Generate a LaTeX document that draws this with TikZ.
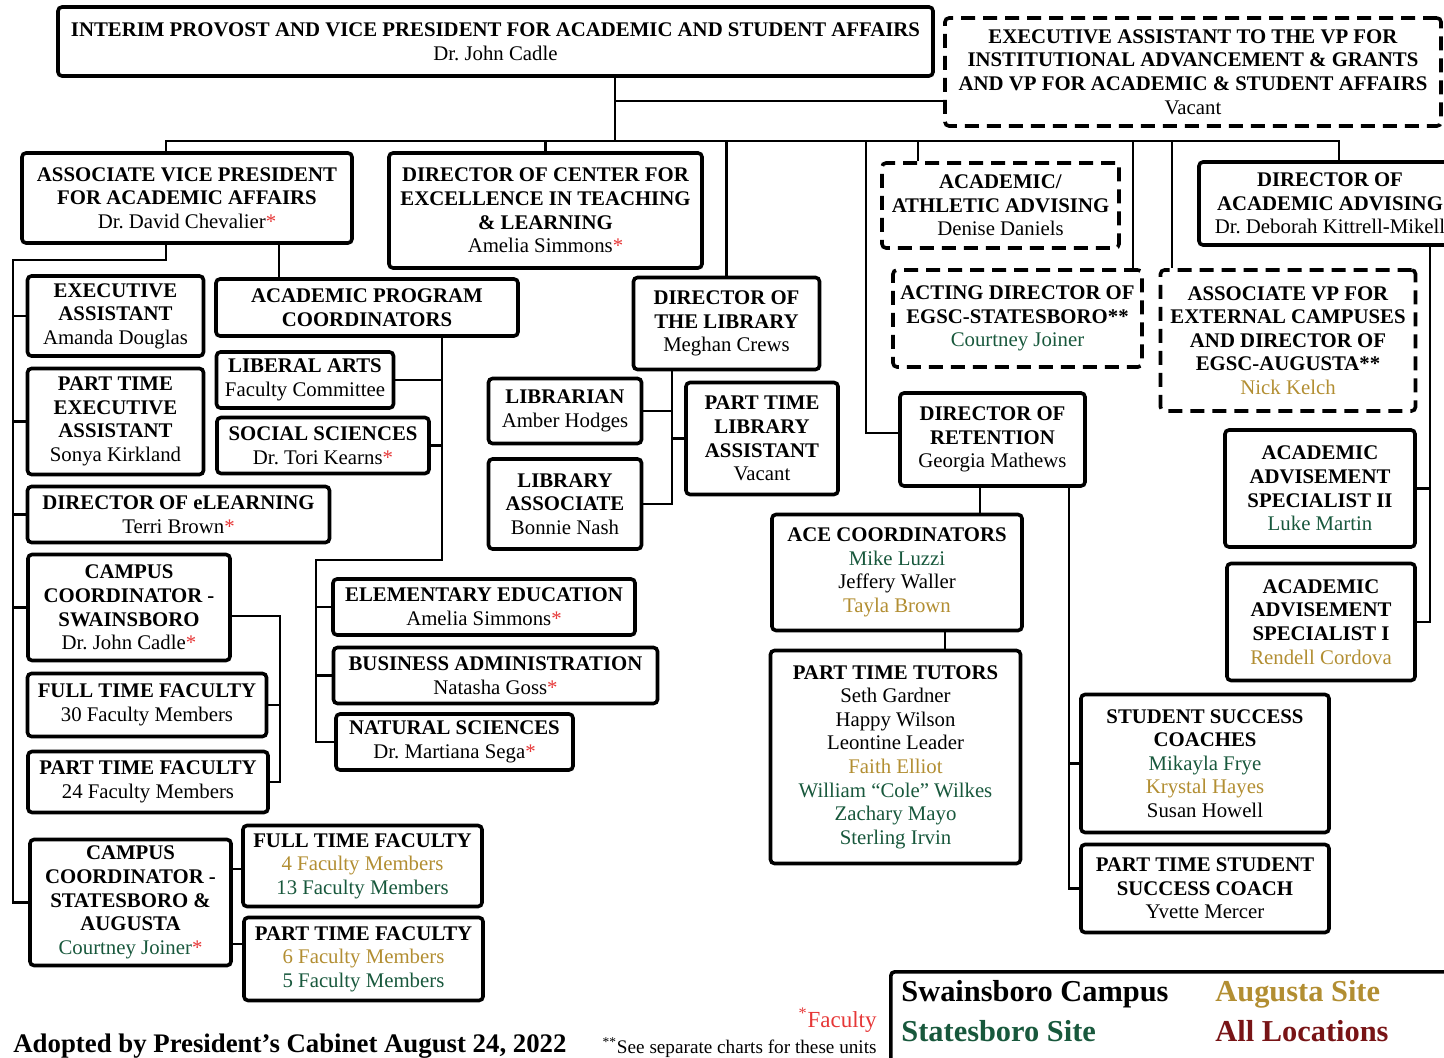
\documentclass[tikz,border=0pt]{standalone}
\usepackage{fontspec}
\setmainfont{Liberation Serif}
\usepackage{tikz}
\usetikzlibrary{positioning,calc}
\definecolor{stategreen}{RGB}{24,88,60}
\definecolor{augold}{RGB}{178,142,50}
\definecolor{allmaroon}{RGB}{120,20,22}
\definecolor{facred}{RGB}{230,55,55}
\newcommand{\grn}[1]{\textcolor{stategreen}{#1}}
\newcommand{\gld}[1]{\textcolor{augold}{#1}}
\newcommand{\fac}{\textcolor{facred}{*}}
\frenchspacing

\begin{document}
\begin{tikzpicture}[x=0.5pt,y=-0.5pt]
	\tikzset{
		mynode/.style={rectangle, rounded corners=2pt, draw=black, line width=1.8pt, align=center, inner sep=1pt, font=\fontsize{10.4}{11.8}\selectfont},
		mydash/.style={mynode, dash pattern=on 7pt off 4pt},
		boxsize/.style 2 args={minimum width=#1*0.5pt, minimum height=#2*0.5pt},
		myline/.style={line width=1.4pt},
		mylegend/.style={anchor=west, inner sep=0pt, font=\fontsize{15.2}{17}\selectfont\bfseries}
	}
	\useasboundingbox (0,0) rectangle (1444,1058);

	\node[mynode, boxsize={875}{69}] (provost) at (495.5,41.5) {\textbf{INTERIM PROVOST AND VICE PRESIDENT FOR ACADEMIC AND STUDENT AFFAIRS}\\Dr. John Cadle};
	\node[mydash, boxsize={496}{108}] (execvp) at (1193,72) {\textbf{EXECUTIVE ASSISTANT TO THE VP FOR}\\\textbf{INSTITUTIONAL ADVANCEMENT \& GRANTS}\\\textbf{AND VP FOR ACADEMIC \& STUDENT AFFAIRS}\\Vacant};
	\node[mynode, boxsize={330}{90}] (avp) at (187,198) {\textbf{ASSOCIATE VICE PRESIDENT}\\\textbf{FOR ACADEMIC AFFAIRS}\\Dr. David Chevalier\fac};
	\node[mynode, boxsize={313}{115}] (cetl) at (545.5,210.5) {\textbf{DIRECTOR OF CENTER FOR}\\\textbf{EXCELLENCE IN TEACHING}\\\textbf{\& LEARNING}\\Amelia Simmons\fac};
	\node[mydash, boxsize={237}{85}] (athletic) at (1000.5,205.5) {\textbf{ACADEMIC/}\\\textbf{ATHLETIC ADVISING}\\Denise Daniels};
	\node[mynode, boxsize={262}{83}] (advising) at (1330,203.5) {\textbf{DIRECTOR OF}\\\textbf{ACADEMIC ADVISING}\\Dr. Deborah Kittrell-Mikell};
	\node[mydash, boxsize={249}{97}] (acting) at (1017.5,318.5) {\textbf{ACTING DIRECTOR OF}\\\textbf{EGSC-STATESBORO**}\\\grn{Courtney Joiner}};
	\node[mydash, boxsize={255}{141}] (extvp) at (1288,340.5) {\textbf{ASSOCIATE VP FOR}\\\textbf{EXTERNAL CAMPUSES}\\\textbf{AND DIRECTOR OF}\\\textbf{EGSC-AUGUSTA**}\\\gld{Nick Kelch}};
	\node[mynode, boxsize={176}{80}] (execasst) at (115.5,316) {\textbf{EXECUTIVE}\\\textbf{ASSISTANT}\\Amanda Douglas};
	\node[mynode, boxsize={302}{57}] (apc) at (367,307.5) {\textbf{ACADEMIC PROGRAM}\\\textbf{COORDINATORS}};
	\node[mynode, boxsize={186}{92}] (libdir) at (726.5,323.5) {\textbf{DIRECTOR OF}\\\textbf{THE LIBRARY}\\Meghan Crews};
	\node[mynode, boxsize={176}{106}] (ptexec) at (115.5,421.5) {\textbf{PART TIME}\\\textbf{EXECUTIVE}\\\textbf{ASSISTANT}\\Sonya Kirkland};
	\node[mynode, boxsize={177}{56}] (libarts) at (305,380) {\textbf{LIBERAL ARTS}\\Faculty Committee};
	\node[mynode, boxsize={212}{56}] (socsci) at (323,445.5) {\textbf{SOCIAL SCIENCES}\\Dr. Tori Kearns\fac};
	\node[mynode, boxsize={153}{65}] (librarian) at (565,411) {\textbf{LIBRARIAN}\\Amber Hodges};
	\node[mynode, boxsize={153}{90}] (libassoc) at (565,504) {\textbf{LIBRARY}\\\textbf{ASSOCIATE}\\Bonnie Nash};
	\node[mynode, boxsize={152}{112}] (ptlib) at (762,438.5) {\textbf{PART TIME}\\\textbf{LIBRARY}\\\textbf{ASSISTANT}\\Vacant};
	\node[mynode, boxsize={185}{93}] (retention) at (992.5,439.5) {\textbf{DIRECTOR OF}\\\textbf{RETENTION}\\Georgia Mathews};
	\node[mynode, boxsize={190}{117}] (aasii) at (1320,488.5) {\textbf{ACADEMIC}\\\textbf{ADVISEMENT}\\\textbf{SPECIALIST II}\\\grn{Luke Martin}};
	\node[mynode, boxsize={302}{56}] (elearn) at (178.5,514.5) {\textbf{DIRECTOR OF eLEARNING}\\Terri Brown\fac};
	\node[mynode, boxsize={250}{116}] (ace) at (897,572.5) {\textbf{ACE COORDINATORS}\\\grn{Mike Luzzi}\\Jeffery Waller\\\gld{Tayla Brown}};
	\node[mynode, boxsize={202}{106}] (swain) at (129,607.5) {\textbf{CAMPUS}\\\textbf{COORDINATOR -}\\\textbf{SWAINSBORO}\\Dr. John Cadle\fac};
	\node[mynode, boxsize={302}{56}] (elem) at (484,607) {\textbf{ELEMENTARY EDUCATION}\\Amelia Simmons\fac};
	\node[mynode, boxsize={188}{117}] (aasi) at (1321,622) {\textbf{ACADEMIC}\\\textbf{ADVISEMENT}\\\textbf{SPECIALIST I}\\\gld{Rendell Cordova}};
	\node[mynode, boxsize={324}{56}] (busad) at (495.5,675.5) {\textbf{BUSINESS ADMINISTRATION}\\Natasha Goss\fac};
	\node[mynode, boxsize={250}{213}] (tutors) at (895.5,757) {\textbf{PART TIME TUTORS}\\Seth Gardner\\Happy Wilson\\Leontine Leader\\\gld{Faith Elliot}\\\grn{William ``Cole'' Wilkes}\\\grn{Zachary Mayo}\\\grn{Sterling Irvin}};
	\node[mynode, boxsize={239}{63}] (ftswain) at (147,705) {\textbf{FULL TIME FACULTY}\\30 Faculty Members};
	\node[mynode, boxsize={248}{138}] (ssc) at (1205,763.5) {\textbf{STUDENT SUCCESS}\\\textbf{COACHES}\\\grn{Mikayla Frye}\\\gld{Krystal Hayes}\\Susan Howell};
	\node[mynode, boxsize={237}{56}] (natsci) at (454.5,742) {\textbf{NATURAL SCIENCES}\\Dr. Martiana Sega\fac};
	\node[mynode, boxsize={240}{61}] (ptswain) at (148,782) {\textbf{PART TIME FACULTY}\\24 Faculty Members};
	\node[mynode, boxsize={239}{81}] (ftstat) at (362.5,866) {\textbf{FULL TIME FACULTY}\\\gld{4 Faculty Members}\\\grn{13 Faculty Members}};
	\node[mynode, boxsize={201}{126}] (states) at (130.5,902.5) {\textbf{CAMPUS}\\\textbf{COORDINATOR -}\\\textbf{STATESBORO \&}\\\textbf{AUGUSTA}\\\grn{Courtney Joiner}\fac};
	\node[mynode, boxsize={248}{88}] (ptssc) at (1205,888.5) {\textbf{PART TIME STUDENT}\\\textbf{SUCCESS COACH}\\Yvette Mercer};
	\node[mynode, boxsize={239}{83}] (ptstat) at (363.5,959) {\textbf{PART TIME FACULTY}\\\gld{6 Faculty Members}\\\grn{5 Faculty Members}};

	% legend and notes
	\node[mynode, anchor=north west, boxsize={620}{130}] (legend) at (889,970) {};
	\node[mylegend] (swlab) at (901,994) {Swainsboro Campus};
	\node[mylegend, text=augold] (aulab) at (1215,994) {Augusta Site};
	\node[mylegend, text=stategreen] (stlab) at (901,1031) {Statesboro Site};
	\node[mylegend, text=allmaroon] (alllab) at (1215,1031) {All Locations};
	\node[anchor=west, inner sep=0pt, font=\fontsize{13.4}{15}\selectfont\bfseries] (adopted) at (13,1046) {Adopted by President's Cabinet August 24, 2022};
	\node[anchor=east, inner sep=0pt, font=\fontsize{11.5}{13}\selectfont, text=facred] (faclab) at (877,1020) {\textsuperscript{*}Faculty};
	\node[anchor=south east, inner sep=0pt, font=\fontsize{9.6}{11}\selectfont] (seenote) at (877,1058) {\textsuperscript{**}See separate charts for these units};

	\coordinate (jtop) at (615,101);
	\coordinate (busl) at (166,141);
	\coordinate (busr) at (1339,141);
	\coordinate (jret) at (866,433);
	\coordinate (jath) at (918,141);
	\coordinate (jact) at (1133,141);
	\coordinate (jext) at (1172,141);
	\coordinate (jadv) at (1430,245);
	\coordinate (javp) at (166,260);
	\coordinate (jleft) at (13,260);
	\coordinate (japc) at (279,243);
	\coordinate (jprog) at (442,560);
	\coordinate (jprog2) at (316,560);
	\coordinate (jsw) at (280,616);
	\coordinate (jst1) at (237,869);
	\coordinate (jst2) at (237,944);
	\coordinate (jlib) at (672,500);
	\coordinate (jace) at (980,500);
	\coordinate (jtut) at (945,640);
	\coordinate (jssc) at (1069,500);

	\draw[myline] (provost.south -| jtop) -- (busl -| jtop);
	\draw[myline] (jtop) -- (jtop -| execvp.west);
	\draw[myline] (avp.north -| busl) -- (busl) -- (busr) -- (busr |- advising.north);
	\draw[myline] (cetl.north) -- (cetl.north |- busl);
	\draw[myline] (libdir.north) -- (libdir.north |- busl);
	\draw[myline] (jret |- busl) -- (jret) -- (jret -| retention.west);
	\draw[myline] (jath) -- (jath |- athletic.north);
	\draw[myline] (jact) -- (jact |- acting.north);
	\draw[myline] (jext) -- (jext |- extvp.north);
	\draw[myline] (jadv |- advising.south) |- (aasi.east);
	\draw[myline] (aasii.east) -- (aasii.east -| jadv);
	\draw[myline] (javp |- avp.south) -- (javp) -- (jleft) |- (states.west);
	\draw[myline] (execasst.west) -- (execasst.west -| jleft);
	\draw[myline] (ptexec.west) -- (ptexec.west -| jleft);
	\draw[myline] (elearn.west) -- (elearn.west -| jleft);
	\draw[myline] (swain.west) -- (swain.west -| jleft);
	\draw[myline] (japc |- avp.south) -- (japc |- apc.north);
	\draw[myline] (apc.south -| jprog) -- (jprog) -- (jprog2) |- (natsci.west);
	\draw[myline] (libarts.east) -- (libarts.east -| jprog);
	\draw[myline] (socsci.east) -- (socsci.east -| jprog);
	\draw[myline] (elem.west) -- (elem.west -| jprog2);
	\draw[myline] (busad.west) -- (busad.west -| jprog2);
	\draw[myline] (jsw -| swain.east) -- (jsw) |- (ptswain.east);
	\draw[myline] (ftswain.east) -- (ftswain.east -| jsw);
	\draw[myline] (jst1 -| states.east) -- (jst1 -| ftstat.west);
	\draw[myline] (jst2 -| states.east) -- (jst2 -| ptstat.west);
	\draw[myline] (libdir.south -| jlib) |- (libassoc.east);
	\draw[myline] (librarian.east) -- (librarian.east -| jlib);
	\draw[myline] (ptlib.west) -- (ptlib.west -| jlib);
	\draw[myline] (jace |- retention.south) -- (jace |- ace.north);
	\draw[myline] (jtut |- ace.south) -- (jtut |- tutors.north);
	\draw[myline] (jssc |- retention.south) |- (ptssc.west);
	\draw[myline] (ssc.west) -- (ssc.west -| jssc);
\end{tikzpicture}
\end{document}
